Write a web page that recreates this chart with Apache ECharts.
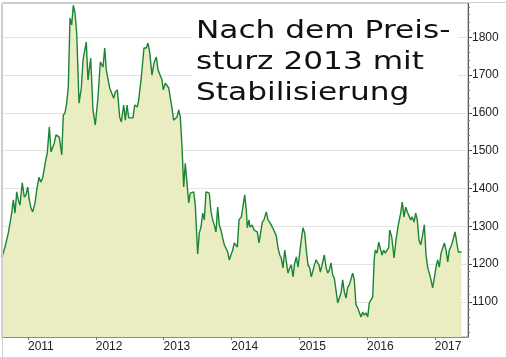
<!DOCTYPE html>
<html><head><meta charset="utf-8">
<script src="https://cdn.jsdelivr.net/npm/echarts@6/dist/echarts.min.js"></script>
<style>html,body{margin:0;padding:0;background:#fff}#c{width:506px;height:357px}</style>
</head><body><div id="c"></div>
<script>
const dates = [2010.617,2010.661,2010.686,2010.710,2010.760,2010.784,2010.809,2010.834,2010.857,2010.882,2010.916,2010.946,2010.971,2010.996,2011.020,2011.045,2011.070,2011.104,2011.129,2011.163,2011.188,2011.217,2011.241,2011.262,2011.285,2011.315,2011.340,2011.365,2011.388,2011.413,2011.439,2011.462,2011.498,2011.521,2011.546,2011.571,2011.595,2011.620,2011.645,2011.669,2011.694,2011.719,2011.753,
2011.787,2011.812,2011.860,2011.885,2011.925,2011.959,2011.993,2012.033,2012.067,2012.107,2012.132,2012.155,2012.205,2012.229,2012.264,2012.288,2012.318,2012.353,2012.377,2012.412,2012.436,2012.461,2012.486,2012.509,2012.549,2012.574,2012.613,2012.633,2012.672,2012.711,2012.745,2012.770,2012.795,2012.829,2012.859,2012.893,2012.918,
2012.947,2012.977,2012.996,2013.026,2013.051,2013.076,2013.099,2013.124,2013.149,2013.173,2013.198,2013.223,2013.247,2013.272,2013.297,2013.320,2013.346,2013.371,2013.394,2013.419,2013.444,2013.468,2013.503,2013.527,2013.552,2013.577,2013.601,2013.626,2013.651,2013.674,2013.700,2013.725,2013.748,2013.773,2013.798,2013.822,2013.847,2013.872,2013.896,2013.921,2013.946,2013.969,2013.994,2014.020,2014.043,2014.068,2014.088,
2014.113,2014.147,2014.172,2014.197,2014.220,2014.235,2014.260,2014.275,2014.309,2014.334,2014.359,2014.382,2014.408,2014.433,2014.456,2014.481,2014.515,2014.540,2014.565,2014.589,2014.614,2014.639,2014.663,2014.688,2014.713,2014.736,2014.761,2014.787,2014.810,2014.835,2014.860,2014.884,2014.909,2014.934,2014.958,2014.983,2015.008,2015.031,2015.056,2015.082,2015.105,2015.130,2015.155,2015.179,2015.204,
2015.226,2015.248,2015.273,2015.292,2015.312,2015.337,2015.371,2015.396,2015.421,2015.444,2015.469,2015.495,2015.518,2015.543,2015.568,2015.592,2015.617,2015.642,2015.666,2015.691,2015.716,2015.739,2015.764,2015.789,2015.813,2015.838,2015.863,2015.887,2015.912,2015.937,2015.961,2015.986,2016.011,2016.034,2016.059,2016.084,2016.108,2016.123,2016.148,2016.173,2016.196,2016.222,2016.247,2016.270,2016.295,2016.320,2016.335,2016.365,2016.399,2016.428,2016.462,2016.497,2016.521,2016.546,2016.571,2016.595,2016.620,2016.645,2016.668,2016.694,2016.719,2016.742,2016.767,2016.792,2016.816,2016.846,2016.871,2016.896,2016.919,2016.944,2016.969,2016.993,2017.018,2017.043,2017.067,2017.092,2017.117,2017.141,2017.166,2017.191,2017.214,2017.250,2017.273,2017.299,2017.324,2017.347,2017.372,2017.394];
const prices = [1219,1245,1250,1282,1335,1370,1335,1391,1370,1356,1415,1377,1383,1404,1370,1348,1338,1362,1396,1430,1417,1428,1430,1475,1494,1563,1497,1497,1520,1542,1539,1536,1489,1594,1600,1626,1669,1851,1833,1885,1864,1811,1626,
1666,1740,1788,1687,1745,1608,1568,1642,1735,1721,1772,1714,1666,1666,1639,1655,1661,1589,1576,1621,1581,1621,1587,1589,1587,1621,1616,1634,1695,1772,1772,1785,1761,1700,1732,1748,1714,
1714,1687,1661,1679,1682,1666,1669,1613,1581,1581,1589,1608,1589,1510,1404,1467,1470,1362,1388,1388,1391,1356,1227,1282,1298,1335,1317,1391,1396,1388,1338,1317,1303,1285,1351,1303,1290,1269,1251,1251,1232,1211,1206,1237,1256,1251,1245,
1317,1325,1330,1383,1343,1296,1317,1298,1303,1290,1290,1285,1256,1253,1311,1317,1338,1317,1311,1303,1306,1285,1274,1243,1224,1216,1190,1237,1232,1176,1190,1198,1166,1203,1219,1192,1195,1264,1296,1282,1237,1198,1190,1166,1163,
1198,1211,1211,1198,1179,1198,1224,1192,1176,1184,1203,1171,1163,1131,1097,1092,1124,1158,1126,1110,1139,1145,1142,1176,1158,1092,1084,1079,1060,1073,1065,1071,1060,1097,1092,1113,1216,1237,1229,1258,1256,1224,1237,1229,1237,1243,1290,1272,1216,1264,1304,1335,1364,1325,1351,1338,1343,1317,1325,1311,1335,1317,1264,1251,1272,1304,1224,1190,1176,1158,1137,1163,1192,1211,1192,1229,1232,1256,1237,1206,1237,1251,1256,1285,1282,1232,1229,1232];
const yearTicks = [2011,2012,2013,2014,2015,2016,2017];
const priceTicks = [1100,1200,1300,1400,1500,1600,1700,1800];
const titleLines = ['Nach dem Preis-','sturz 2013 mit','Stabilisierung'];

const n = Math.min(dates.length, prices.length);
const seriesData = [];
for (let i = 0; i < n; i++) seriesData.push([dates[i], prices[i]]);

const chart = echarts.init(document.getElementById('c'), null, {renderer:'canvas'});
chart.setOption({
  animation: false,
  backgroundColor: '#ffffff',
  grid: {left: 2, right: 38, top: 3, bottom: 20, show: true, borderColor: '#9a9a9a', borderWidth: 1, backgroundColor: '#ffffff'},
  xAxis: {
    type: 'value', min: 2010.617, max: 2017.49,
    axisLine: {show: true, onZero: false, lineStyle: {color: '#8c8c8c', width: 1}},
    axisTick: {show: true, length: 3, customValues: yearTicks, lineStyle: {color: '#777'}},
    axisLabel: {customValues: yearTicks, formatter: v => String(Math.round(v)), align: 'left', margin: 4,
      color: '#222', fontSize: 12, fontFamily: 'Liberation Sans, Arial, sans-serif'},
    splitLine: {show: false}
  },
  yAxis: {
    type: 'value', position: 'right', min: 1007, max: 1891, splitNumber: 9,
    axisLine: {show: true, lineStyle: {color: '#555', width: 1}},
    axisTick: {show: true, length: 4, customValues: priceTicks, lineStyle: {color: '#555'}},
    minorTick: {show: true, splitNumber: 5, length: 2, lineStyle: {color: '#777'}},
    axisLabel: {customValues: priceTicks, formatter: v => String(Math.round(v)), margin: 4, color: '#222', fontSize: 12, fontFamily: 'Liberation Sans, Arial, sans-serif'},
    splitLine: {show: true, lineStyle: {color: '#e3e3e3', width: 1}}
  },
  series: [{
    type: 'line', data: seriesData, showSymbol: false, smooth: false,
    lineStyle: {color: '#1b8436', width: 1.4},
    areaStyle: {color: '#eaedc1', origin: 'start', opacity: 1},
    z: 2
  }],
  graphic: [
    {type: 'rect', left: 192, top: 8, shape: {width: 266, height: 102}, style: {fill: '#ffffff'}, z: 10},
    {type: 'text', x: 196, y: 16, scaleX: 1.3, z: 11,
      style: {text: titleLines.join('\n'), fontSize: 24, lineHeight: 31, fontFamily: 'DejaVu Sans', fill: '#111'}},
    {type: 'rect', left: 0, top: 0, shape: {width: 505, height: 356}, style: {fill: 'none', stroke: '#d0d0d0', lineWidth: 1}, z: 12}
  ]
});
</script></body></html>
